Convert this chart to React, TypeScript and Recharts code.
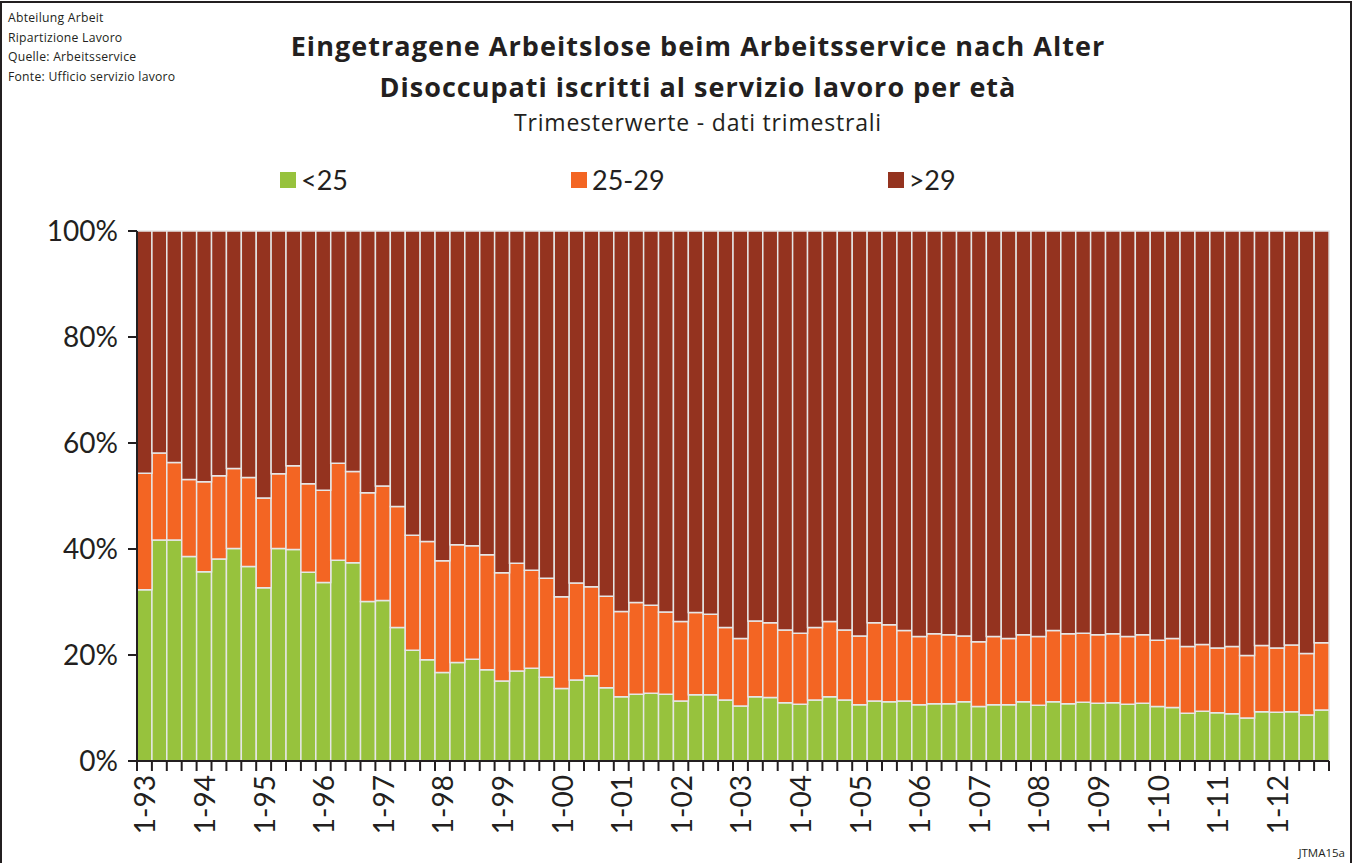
import React from "react";
import { BarChart, Bar, XAxis, YAxis } from "recharts";

const years = ["93", "94", "95", "96", "97", "98", "99", "00", "01", "02", "03", "04", "05", "06", "07", "08", "09", "10", "11", "12"];
const quarterNumbers = ["1", "2", "3", "4"];
const quarters = years.flatMap((y) => quarterNumbers.map((q) => `${q}-${y}`));

// shares in percent
const under25 = [
  32.3, 41.7, 41.7, 38.6, 35.7, 38.1, 40.1, 36.7, 32.7, 40.1,
  39.9, 35.6, 33.7, 37.9, 37.4, 30.1, 30.3, 25.2, 20.9, 19.1,
  16.7, 18.6, 19.2, 17.2, 15.1, 17.0, 17.5, 15.8, 13.7, 15.3,
  16.1, 13.8, 12.1, 12.6, 12.8, 12.6, 11.3, 12.5, 12.5, 11.5,
  10.4, 12.1, 12.0, 11.0, 10.7, 11.5, 12.1, 11.5, 10.6, 11.3,
  11.2, 11.3, 10.6, 10.8, 10.8, 11.2, 10.3, 10.6, 10.6, 11.2,
  10.5, 11.2, 10.8, 11.1, 10.9, 11.0, 10.7, 10.9, 10.3, 10.1,
  9.0, 9.4, 9.1, 8.9, 8.1, 9.3, 9.2, 9.3, 8.7, 9.6,
];
const age25to29 = [
  22.0, 16.4, 14.6, 14.5, 17.0, 15.7, 15.1, 16.8, 16.9, 14.1,
  15.8, 16.7, 17.4, 18.3, 17.2, 20.5, 21.6, 22.8, 21.7, 22.3,
  21.1, 22.2, 21.4, 21.7, 20.4, 20.3, 18.5, 18.7, 17.3, 18.3,
  16.8, 17.3, 16.1, 17.3, 16.6, 15.5, 15.0, 15.5, 15.2, 13.7,
  12.7, 14.3, 14.1, 13.7, 13.4, 13.7, 14.2, 13.2, 13.0, 14.8,
  14.5, 13.3, 12.9, 13.2, 13.0, 12.4, 12.2, 12.9, 12.5, 12.6,
  13.0, 13.4, 13.2, 13.0, 12.9, 13.0, 12.8, 12.9, 12.5, 13.0,
  12.6, 12.6, 12.2, 12.7, 11.8, 12.5, 12.1, 12.6, 11.6, 12.7,
];
const over29 = [
  45.7, 41.9, 43.7, 46.9, 47.3, 46.2, 44.8, 46.5, 50.4, 45.8,
  44.3, 47.7, 48.9, 43.8, 45.4, 49.4, 48.1, 52.0, 57.4, 58.6,
  62.2, 59.2, 59.4, 61.1, 64.5, 62.7, 64.0, 65.5, 69.0, 66.4,
  67.1, 68.9, 71.8, 70.1, 70.6, 71.9, 73.7, 72.0, 72.3, 74.8,
  76.9, 73.6, 73.9, 75.3, 75.9, 74.8, 73.7, 75.3, 76.4, 73.9,
  74.3, 75.4, 76.5, 76.0, 76.2, 76.4, 77.5, 76.5, 76.9, 76.2,
  76.5, 75.4, 76.0, 75.9, 76.2, 76.0, 76.5, 76.2, 77.2, 76.9,
  78.4, 78.0, 78.7, 78.4, 80.1, 78.2, 78.7, 78.1, 79.7, 77.7,
];

const seriesNames = ["<25", "25-29", ">29"];
const seriesColors = ["#97c23d", "#f36523", "#94331f"];
const yTicks = [0, 20, 40, 60, 80, 100];

const data = quarters.map((q, i) => ({
  q,
  a: under25[i],
  b: age25to29[i],
  c: over29[i],
}));

const W = 1355;
const H = 863;
const LEFT = 137;
const RIGHT = 26;
const BAND = (W - LEFT - RIGHT) / quarters.length;
const INK = "#231f20";
const FONT = "Lato, sans-serif";
const TITLE_FONT = "'Open Sans', sans-serif";

function QuarterTick(props: any) {
  const { x, y, payload } = props;
  const i = payload.index;
  const half = BAND / 2;
  return (
    <g>
      <line x1={x - half} y1={y} x2={x - half} y2={y + 10} stroke={INK} strokeWidth={2} />
      {i === quarters.length - 1 && (
        <line x1={x + half} y1={y} x2={x + half} y2={y + 10} stroke={INK} strokeWidth={2} />
      )}
      {i % 4 === 0 && (
        <text
          x={x}
          y={y + 14}
          transform={`rotate(-90, ${x}, ${y + 14})`}
          textAnchor="end"
          dominantBaseline="central"
          fontSize={28}
          fontFamily={FONT}
          fill={INK}
        >
          {payload.value}
        </text>
      )}
    </g>
  );
}

export default function App() {
  return (
    <div
      style={{
        position: "absolute",
        left: 0,
        top: 0,
        width: W,
        height: H,
        overflow: "hidden",
        background: "#fff",
        fontFamily: FONT,
        color: INK,
      }}
    >
      <div
        style={{
          position: "absolute",
          left: 0,
          top: 1,
          width: 1352,
          height: 880,
          border: `2px solid ${INK}`,
          boxSizing: "border-box",
        }}
      />
      <div
        style={{
          position: "absolute",
          left: 8,
          top: 8,
          fontSize: 12.2,
          lineHeight: "19.5px",
          letterSpacing: 0.25,
          fontFamily: TITLE_FONT,
        }}
      >
        <div>Abteilung Arbeit</div>
        <div>Ripartizione Lavoro</div>
        <div>Quelle: Arbeitsservice</div>
        <div>Fonte: Ufficio servizio lavoro</div>
      </div>
      <div style={{ position: "absolute", left: 0, width: 1396, top: 25, textAlign: "center", fontFamily: TITLE_FONT }}>
        <div style={{ fontSize: 27, fontWeight: 700, lineHeight: "41px", letterSpacing: 1.05 }}>
          Eingetragene Arbeitslose beim Arbeitsservice nach Alter
        </div>
        <div style={{ fontSize: 27, fontWeight: 700, lineHeight: "41px", letterSpacing: 1.0 }}>
          Disoccupati iscritti al servizio lavoro per età
        </div>
        <div style={{ fontSize: 23, lineHeight: "31px", letterSpacing: 0.8 }}>Trimesterwerte - dati trimestrali</div>
      </div>
      <div style={{ position: "absolute", left: 280, top: 165, display: "flex", alignItems: "center" }}>
        {seriesNames.map((name, i) => (
          <div key={name} style={{ display: "flex", alignItems: "center", marginRight: 223 }}>
            <span style={{ width: 16, height: 16, background: seriesColors[i], display: "inline-block", marginRight: 5 }} />
            <span style={{ fontSize: 27, lineHeight: "30px" }}>{name}</span>
          </div>
        ))}
      </div>
      <div style={{ position: "absolute", right: 10, top: 846, fontSize: 11.5, lineHeight: "14px", fontFamily: TITLE_FONT }}>JTMA15a</div>
      <div style={{ position: "absolute", left: 0, top: 0 }}>
        <BarChart
          width={W}
          height={H}
          data={data}
          margin={{ top: 231, right: RIGHT, bottom: 0, left: 0 }}
          barCategoryGap={0}
          barGap={0}
        >
          <XAxis
            dataKey="q"
            height={102}
            interval={0}
            tickSize={0}
            tickMargin={0}
            tickLine={false}
            axisLine={{ stroke: INK, strokeWidth: 2 }}
            tick={<QuarterTick />}
          />
          <YAxis
            width={LEFT}
            domain={[0, 100]}
            ticks={yTicks}
            tickFormatter={(v: number) => `${v}%`}
            tickSize={9}
            tickMargin={10}
            axisLine={{ stroke: INK, strokeWidth: 2 }}
            tickLine={{ stroke: INK, strokeWidth: 2 }}
            tick={{ fontSize: 28, fill: INK, fontFamily: FONT }}
          />
          <Bar dataKey="a" name={seriesNames[0]} stackId="s" fill={seriesColors[0]} stroke="#e6e6e6" strokeWidth={1.5} isAnimationActive={false} />
          <Bar dataKey="b" name={seriesNames[1]} stackId="s" fill={seriesColors[1]} stroke="#e6e6e6" strokeWidth={1.5} isAnimationActive={false} />
          <Bar dataKey="c" name={seriesNames[2]} stackId="s" fill={seriesColors[2]} stroke="#e6e6e6" strokeWidth={1.5} isAnimationActive={false} />
        </BarChart>
      </div>
    </div>
  );
}
